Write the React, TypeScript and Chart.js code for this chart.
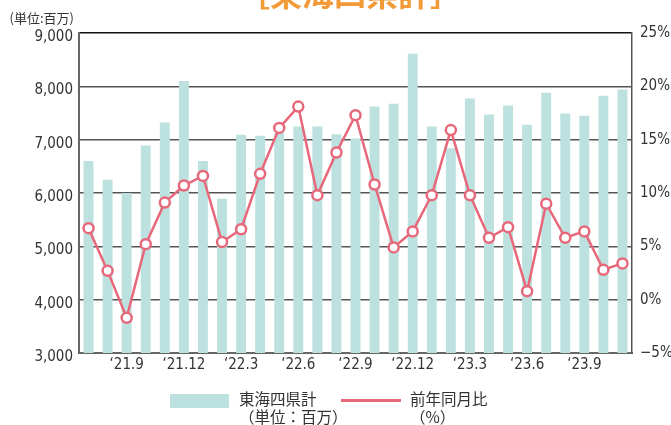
import React, { useEffect, useRef } from 'react';
import { Chart, registerables } from 'chart.js';

Chart.register(...registerables);

// Months: 2021.7 – 2023.11
const months = [
  '21.7', '21.8', '21.9', '21.10', '21.11', '21.12',
  '22.1', '22.2', '22.3', '22.4', '22.5', '22.6', '22.7', '22.8', '22.9', '22.10', '22.11', '22.12',
  '23.1', '23.2', '23.3', '23.4', '23.5', '23.6', '23.7', '23.8', '23.9', '23.10', '23.11',
];
// 東海四県計 (単位:百万)
const sales = [
  6600, 6250, 6000, 6890, 7320, 8100,
  6600, 5890, 7090, 7075, 7130, 7245, 7245, 7100, 7020, 7620, 7675, 8610,
  7245, 6840, 7770, 7470, 7640, 7280, 7880, 7490, 7450, 7825, 7940,
];
// 前年同月比 (%)
const yoy = [
  6.7, 2.7, -1.7, 5.2, 9.1, 10.7,
  11.6, 5.4, 6.6, 11.8, 16.1, 18.1, 9.8, 13.8, 17.3, 10.8, 4.9, 6.4,
  9.8, 15.9, 9.8, 5.8, 6.8, 0.8, 9.0, 5.8, 6.4, 2.8, 3.4,
];
const tickMonths = ['21.9', '21.12', '22.3', '22.6', '22.9', '22.12', '23.3', '23.6', '23.9'];

const BAR_COLOR = '#BDE1DE';
const LINE_COLOR = '#E8687B';
const NARROW = "'Liberation Sans Narrow', 'DejaVu Sans Condensed', 'Liberation Sans', sans-serif";
const JP = "'Noto Sans CJK JP', 'Noto Sans', sans-serif";

export default function App() {
  const ref = useRef<HTMLCanvasElement | null>(null);

  useEffect(() => {
    if (!ref.current) return;
    const chart = new Chart(ref.current, {
      type: 'bar',
      data: {
        labels: months,
        datasets: [
          {
            type: 'line',
            label: '前年同月比',
            data: yoy,
            yAxisID: 'y1',
            order: 0,
            borderColor: LINE_COLOR,
            borderWidth: 2.5,
            pointRadius: 5,
            pointBorderWidth: 2.5,
            pointBackgroundColor: '#ffffff',
            pointBorderColor: LINE_COLOR,
            tension: 0,
          } as any,
          {
            type: 'bar',
            label: '東海四県計',
            data: sales,
            yAxisID: 'y',
            order: 1,
            backgroundColor: BAR_COLOR,
            categoryPercentage: 1,
            barPercentage: 0.52,
          } as any,
        ],
      },
      options: {
        responsive: false,
        animation: false,
        layout: { padding: { top: 33, bottom: 52, left: 0, right: 0 } },
        plugins: { legend: { display: false }, tooltip: { enabled: false } },
        scales: {
          x: {
            grid: { display: false, drawTicks: false },
            border: { display: true, color: '#666', width: 2 },
            ticks: {
              autoSkip: false,
              maxRotation: 0,
              padding: 3,
              color: '#333',
              font: { family: NARROW, size: 15 },
              callback: (_v: any, i: number) => (tickMonths.includes(months[i]) ? '\u2018' + months[i] : ''),
            },
            afterFit: (s: any) => { s.height = 20; },
          },
          y: {
            position: 'left',
            min: 3000,
            max: 9000,
            ticks: {
              stepSize: 1000,
              padding: 6,
              labelOffset: 4,
              color: '#333',
              font: { family: NARROW, size: 15 },
              callback: (v: any) => Number(v).toLocaleString('en-US'),
            },
            grid: {
              color: (ctx: any) => (ctx.tick && ctx.tick.value === 9000 ? '#111' : '#555'),
              lineWidth: 1.5,
              drawTicks: false,
            },
            border: { color: '#666', width: 2 },
            afterFit: (s: any) => { s.width = 79; },
          },
          y1: {
            position: 'right',
            min: -5,
            max: 25,
            ticks: {
              stepSize: 5,
              padding: 8,
              color: '#333',
              font: { family: NARROW, size: 15 },
              callback: (v: any) => (Number(v) < 0 ? '\u2212' + Math.abs(Number(v)) : String(v)) + '%',
            },
            grid: { display: false, drawTicks: false },
            border: { color: '#555', width: 1.5 },
            afterFit: (s: any) => { s.width = 39; },
          },
        },
      } as any,
    });
    return () => chart.destroy();
  }, []);

  const abs = (s: React.CSSProperties): React.CSSProperties => ({ position: 'absolute', whiteSpace: 'nowrap', ...s });

  return (
    <div style={{ position: 'absolute', left: 0, top: 0, width: 671, height: 425, overflow: 'hidden', background: '#fff' }}>
      <canvas ref={ref} width={671} height={425} style={{ position: 'absolute', left: 0, top: 0, width: 671, height: 425 }} />
      <div style={abs({ left: 238, top: -24, fontSize: 32, lineHeight: '32px', fontWeight: 700, color: '#F29A38', fontFamily: JP })}>
        ［東海四県計］
      </div>
      <div style={abs({ right: 671 - 74, top: 10, fontSize: 13, lineHeight: '16px', color: '#333', fontFamily: JP })}>
        (単位:百万)
      </div>
      {/* legend */}
      <div style={abs({ left: 170, top: 394, width: 59, height: 14, background: BAR_COLOR })} />
      <div style={abs({ left: 239, top: 389, fontSize: 15.5, lineHeight: '18px', color: '#333', fontFamily: JP })}>
        東海四県計<br />（単位：百万）
      </div>
      <div style={abs({ left: 341, top: 399, width: 60, height: 3, background: LINE_COLOR })} />
      <div style={abs({ left: 410, top: 389, fontSize: 15.5, lineHeight: '18px', color: '#333', fontFamily: JP })}>
        前年同月比<br />（%）
      </div>
    </div>
  );
}
